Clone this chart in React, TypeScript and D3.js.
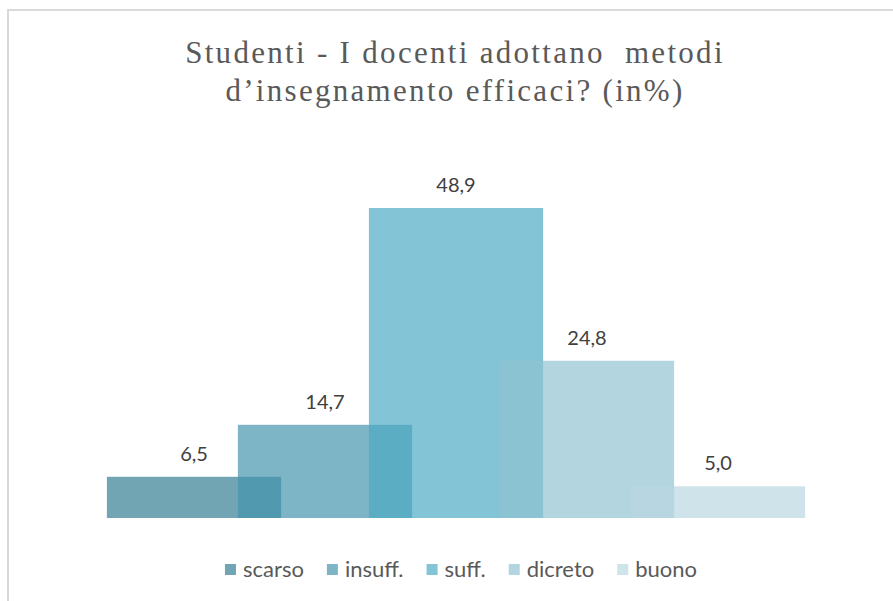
import React, { useEffect, useRef } from 'react';
import * as d3 from 'd3';

const categories = ['scarso', 'insuff.', 'suff.', 'dicreto', 'buono'];
const values = [6.5, 14.7, 48.9, 24.8, 5.0];
const colors = ['#317D92', '#4294AC', '#4BAAC4', '#8FC2D2', '#BAD7E1'];
const titleLines = ['Studenti - I docenti adottano  metodi', 'd\u2019insegnamento efficaci? (in%)'];

const W = 893;
const H = 601;

export default function App() {
  const svgRef = useRef<SVGSVGElement>(null);

  useEffect(() => {
    const svg = d3.select(svgRef.current);
    svg.selectAll('*').remove();

    // chart frame, runs off the right and bottom edge
    svg.append('rect')
      .attr('x', 8)
      .attr('y', 10)
      .attr('width', 950)
      .attr('height', 650)
      .attr('fill', '#fff')
      .attr('stroke', '#D9D9D9')
      .attr('stroke-width', 2);

    // title
    svg.append('g')
      .selectAll('text')
      .data(titleLines)
      .join('text')
      .attr('x', 455)
      .attr('y', (d, i) => 63 + i * 38)
      .attr('text-anchor', 'middle')
      .style('font-family', '"Liberation Serif", serif')
      .style('font-size', '31px')
      .style('letter-spacing', '2.3px')
      .style('white-space', 'pre')
      .attr('fill', '#595959')
      .text(d => d);

    const x = d3.scaleBand()
      .domain(categories)
      .range([128.5, 783.5])
      .paddingInner(0);

    const y = d3.scaleLinear()
      .domain([0, 50])
      .range([518, 201]);

    const barW = x.bandwidth() * 1.33;

    const bars = svg.append('g');
    categories.forEach((c, i) => {
      const cx = x(c)! + x.bandwidth() / 2;
      bars.append('rect')
        .attr('x', cx - barW / 2)
        .attr('y', y(values[i]))
        .attr('width', barW)
        .attr('height', y(0) - y(values[i]))
        .attr('fill', colors[i])
        .attr('fill-opacity', 0.69);

      svg.append('text')
        .attr('x', cx)
        .attr('y', y(values[i]) - 16)
        .attr('text-anchor', 'middle')
        .style('font-family', 'Lato, sans-serif')
        .style('font-size', '20px')
        .attr('fill', '#404040')
        .text(d3.format('.1f')(values[i]).replace('.', ','));
    });

    // legend, measured then centered
    const legend = svg.append('g');
    let offset = 0;
    categories.forEach((c, i) => {
      const item = legend.append('g').attr('transform', `translate(${offset},0)`);
      item.append('rect')
        .attr('x', 0)
        .attr('y', -6)
        .attr('width', 11)
        .attr('height', 11)
        .attr('fill', colors[i])
        .attr('fill-opacity', 0.69);
      const t = item.append('text')
        .attr('x', 18)
        .attr('y', 7)
        .style('font-family', 'Lato, sans-serif')
        .style('font-size', '22px')
        .attr('fill', '#595959')
        .text(c);
      const tw = (t.node() as SVGTextElement).getComputedTextLength();
      offset += 18 + tw + 23;
    });
    const total = offset - 23;
    legend.attr('transform', `translate(${461 - total / 2},570)`);
  }, []);

  return (
    <svg
      ref={svgRef}
      width={W}
      height={H}
      style={{ position: 'absolute', left: 0, top: 0, background: '#fff' }}
    />
  );
}
